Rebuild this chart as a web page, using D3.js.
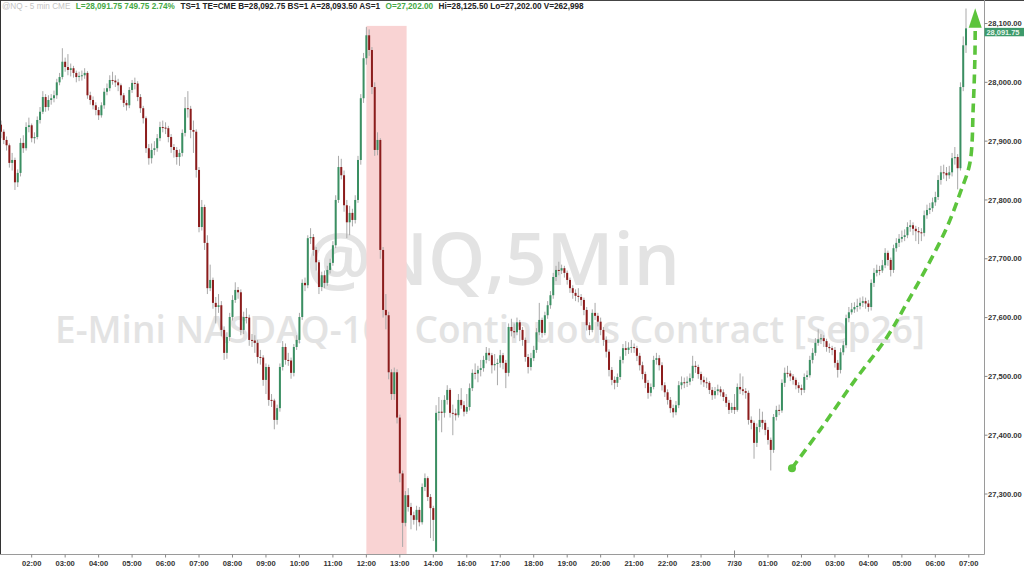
<!DOCTYPE html>
<html><head><meta charset="utf-8">
<script src="https://cdn.jsdelivr.net/npm/d3@7"></script>
<style>html,body{margin:0;padding:0;background:#fff;overflow:hidden}</style>
</head><body>
<svg id="c" width="1024" height="567"></svg>
<script>
// ---------------- DATA ----------------
const opens=[27928,27916,27902,27893,27863,27868,27830,27846,27897,27888,
27924,27927,27905,27907,27936,27950,27975,27958,27970,27973,
27978,28000,28009,28035,28026,28021,28024,28016,28009,28011,
28012,28016,27978,27970,27961,27953,27944,27961,27984,27990,
28004,28003,28000,27995,27978,27965,27961,27987,27999,27998,
27975,27956,27939,27888,27871,27885,27888,27905,27924,27923,
27922,27907,27890,27885,27873,27880,27914,27956,27955,27919,
27916,27851,27754,27788,27727,27650,27664,27625,27618,27621,
27579,27540,27567,27601,27630,27647,27643,27579,27601,27600,
27562,27561,27557,27533,27532,27494,27516,27460,27459,27426,
27446,27516,27550,27528,27527,27506,27550,27562,27601,27659,
27655,27735,27737,27715,27694,27652,27672,27659,27681,27693,
27723,27800,27856,27842,27791,27762,27778,27766,27800,27868,
27973,28041,28080,28055,27992,27885,27902,27715,27613,27604,
27507,27470,27507,27430,27335,27251,27298,27278,27264,27256,
27273,27252,27312,27327,27295,27276,27202,27438,27440,27438,
27460,27477,27438,27437,27434,27460,27451,27440,27448,27480,
27506,27505,27511,27514,27528,27540,27536,27519,27521,27523,
27536,27523,27506,27584,27577,27575,27592,27579,27562,27533,
27516,27531,27545,27575,27596,27574,27604,27621,27638,27669,
27681,27680,27684,27676,27664,27650,27642,27637,27635,27630,
27613,27587,27579,27608,27603,27593,27579,27562,27542,27511,
27494,27489,27499,27528,27548,27545,27549,27550,27548,27535,
27519,27504,27489,27472,27482,27528,27531,27519,27485,27473,
27460,27446,27439,27451,27485,27490,27489,27491,27497,27518,
27516,27504,27494,27490,27489,27477,27468,27475,27478,27473,
27465,27455,27443,27448,27443,27482,27478,27475,27472,27426,
27421,27387,27414,27426,27421,27409,27392,27375,27431,27443,
27442,27489,27506,27505,27500,27494,27485,27480,27477,27499,
27502,27528,27540,27557,27563,27565,27560,27550,27548,27545,
27523,27511,27541,27553,27599,27609,27614,27618,27620,27625,
27628,27624,27618,27659,27676,27681,27680,27689,27710,27698,
27681,27718,27727,27734,27737,27740,27754,27757,27751,27747,
27745,27744,27774,27783,27786,27796,27805,27834,27847,27846,
27842,27847,27871,27873,27854,27992,28063];
const closes=[27916,27902,27893,27863,27868,27830,27846,27897,27888,27924,
27927,27905,27907,27936,27950,27975,27958,27970,27973,27978,
28000,28009,28035,28026,28021,28024,28016,28009,28011,28012,
28016,27978,27970,27961,27953,27944,27961,27984,27990,28004,
28003,28000,27995,27978,27965,27961,27987,27999,27998,27975,
27956,27939,27888,27871,27885,27888,27905,27924,27923,27922,
27907,27890,27885,27873,27880,27914,27956,27955,27919,27916,
27851,27754,27788,27727,27650,27664,27625,27618,27621,27579,
27540,27567,27601,27630,27647,27643,27579,27601,27600,27562,
27561,27557,27533,27532,27494,27516,27460,27459,27426,27446,
27516,27550,27528,27527,27506,27550,27562,27601,27659,27655,
27735,27737,27715,27694,27652,27672,27659,27681,27693,27723,
27800,27856,27842,27791,27762,27778,27766,27800,27868,27973,
28041,28080,28055,27992,27885,27902,27715,27613,27604,27507,
27470,27507,27430,27335,27251,27298,27278,27264,27256,27273,
27252,27312,27327,27295,27276,27256,27438,27440,27438,27460,
27477,27438,27437,27434,27460,27451,27440,27448,27480,27506,
27505,27511,27514,27528,27540,27536,27519,27521,27523,27536,
27523,27506,27584,27577,27575,27592,27579,27562,27533,27516,
27531,27545,27575,27596,27574,27604,27621,27638,27669,27681,
27680,27684,27676,27664,27650,27642,27637,27635,27630,27613,
27587,27579,27608,27603,27593,27579,27562,27542,27511,27494,
27489,27499,27528,27548,27545,27549,27550,27548,27535,27519,
27504,27489,27472,27482,27528,27531,27519,27485,27473,27460,
27446,27439,27451,27485,27490,27489,27491,27497,27518,27516,
27504,27494,27490,27489,27477,27468,27475,27478,27473,27465,
27455,27443,27448,27443,27482,27478,27475,27472,27426,27421,
27387,27414,27426,27421,27409,27392,27375,27431,27443,27442,
27489,27506,27505,27500,27494,27485,27480,27477,27499,27502,
27528,27540,27557,27563,27565,27560,27550,27548,27545,27523,
27511,27541,27553,27599,27609,27614,27618,27620,27625,27628,
27624,27618,27659,27676,27681,27680,27689,27710,27698,27681,
27718,27727,27734,27737,27740,27754,27757,27751,27747,27745,
27744,27774,27783,27786,27796,27805,27834,27847,27846,27842,
27847,27871,27873,27854,27992,28063,28091.75];
const highs=[27935,27920,27908,27896,27880,27872,27852,27905,27910,27932,
27940,27930,27915,27942,27958,27985,27980,27978,27980,27986,
28006,28016,28058,28042,28048,28032,28028,28020,28018,28020,
28024,28019,27984,27976,27966,27958,27966,27990,27998,28012,
28018,28012,28006,27998,27982,27970,27992,28004,28008,28002,
27980,27960,27942,27895,27896,27900,27912,27933,27935,27932,
27926,27912,27895,27890,27886,27920,27975,27985,27960,27935,
27920,27856,27800,27792,27740,27690,27668,27635,27640,27628,
27585,27575,27608,27638,27660,27652,27648,27610,27616,27605,
27572,27570,27562,27545,27536,27522,27520,27470,27462,27452,
27522,27560,27556,27540,27532,27555,27570,27608,27665,27668,
27740,27752,27742,27720,27698,27678,27680,27688,27700,27730,
27808,27875,27870,27850,27800,27790,27785,27808,27875,27980,
28050,28094,28090,28060,28000,27915,27905,27720,27640,27610,
27512,27515,27512,27435,27340,27305,27310,27285,27270,27280,
27278,27318,27335,27330,27300,27280,27451,27465,27460,27468,
27485,27480,27452,27445,27470,27480,27458,27470,27488,27512,
27522,27518,27528,27535,27550,27548,27540,27538,27530,27545,
27540,27528,27590,27598,27590,27600,27596,27584,27566,27538,
27540,27552,27582,27625,27600,27610,27628,27645,27676,27688,
27695,27690,27688,27680,27668,27655,27648,27650,27640,27634,
27618,27592,27614,27625,27608,27600,27584,27568,27546,27516,
27500,27505,27534,27555,27560,27558,27562,27556,27552,27540,
27525,27508,27494,27488,27535,27540,27536,27524,27490,27478,
27465,27452,27458,27492,27500,27498,27500,27505,27535,27526,
27520,27508,27500,27498,27492,27482,27482,27486,27483,27478,
27470,27460,27455,27470,27488,27505,27500,27480,27476,27432,
27425,27420,27445,27440,27426,27414,27396,27436,27450,27452,
27495,27515,27518,27510,27504,27498,27490,27486,27505,27510,
27535,27548,27565,27580,27572,27570,27564,27556,27552,27550,
27528,27548,27560,27605,27618,27625,27626,27632,27634,27636,
27634,27630,27665,27684,27690,27688,27698,27718,27714,27702,
27724,27735,27742,27748,27750,27762,27766,27762,27756,27754,
27752,27782,27792,27795,27804,27814,27842,27858,27860,27856,
27858,27880,27890,27878,28000,28078,28125.5];
const lows=[27905,27895,27884,27855,27850,27817,27822,27840,27880,27884,
27915,27898,27896,27903,27930,27946,27950,27952,27962,27966,
27972,27995,28005,28018,28012,28010,28008,28000,28002,28003,
28006,27972,27962,27954,27944,27936,27940,27955,27978,27985,
27996,27992,27985,27970,27958,27952,27956,27982,27988,27968,
27948,27930,27880,27860,27862,27876,27882,27900,27915,27912,
27898,27880,27872,27860,27858,27874,27908,27940,27905,27880,
27838,27745,27748,27715,27640,27645,27615,27590,27608,27568,
27528,27530,27560,27595,27625,27632,27570,27572,27590,27552,
27550,27540,27522,27520,27484,27470,27450,27448,27410,27418,
27440,27510,27520,27518,27496,27500,27545,27556,27596,27645,
27650,27725,27705,27680,27640,27645,27650,27654,27675,27688,
27718,27795,27835,27780,27735,27740,27755,27760,27795,27860,
27965,28030,28045,27980,27875,27876,27700,27600,27580,27495,
27460,27460,27420,27320,27210,27245,27270,27240,27248,27238,
27245,27248,27305,27288,27225,27220,27202,27425,27405,27430,
27452,27430,27400,27425,27430,27445,27432,27436,27442,27475,
27495,27490,27500,27508,27522,27526,27505,27510,27485,27515,
27512,27480,27500,27568,27565,27570,27560,27552,27525,27505,
27510,27526,27540,27570,27566,27570,27598,27615,27632,27662,
27672,27674,27668,27656,27642,27632,27628,27626,27620,27604,
27578,27570,27575,27596,27585,27570,27552,27532,27500,27485,
27478,27482,27494,27522,27535,27538,27540,27540,27526,27510,
27495,27480,27462,27466,27478,27520,27510,27476,27465,27452,
27438,27430,27434,27446,27478,27480,27482,27485,27492,27506,
27496,27486,27482,27480,27470,27460,27462,27468,27466,27458,
27448,27436,27438,27436,27440,27470,27468,27462,27418,27410,
27360,27380,27405,27410,27400,27384,27340,27370,27425,27434,
27438,27482,27498,27492,27486,27478,27472,27468,27472,27494,
27498,27522,27535,27552,27555,27550,27542,27540,27536,27515,
27498,27505,27536,27548,27592,27605,27608,27610,27614,27618,
27615,27610,27612,27652,27670,27672,27676,27684,27688,27670,
27676,27712,27720,27728,27730,27735,27746,27740,27730,27725,
27730,27738,27768,27776,27780,27790,27800,27826,27836,27832,
27836,27840,27860,27818,27850,27985,28050];

const tickLabels=["02:00","03:00","04:00","05:00","06:00","07:00","08:00","09:00","10:00","11:00","12:00","13:00","14:00",
"16:00","17:00","18:00","19:00","20:00","21:00","22:00","23:00","7/30",
"01:00","02:00","03:00","04:00","05:00","06:00","07:00"];
const priceTicks=[27300,27400,27500,27600,27700,27800,27900,28000,28100];
const lastPrice=28091.75;
const headerParts=["@NQ - 5 min CME","L=28,091.75 749.75 2.74%","TS=1 TE=CME B=28,092.75 BS=1 A=28,093.50 AS=1","O=27,202.00","Hi=28,125.50 Lo=27,202.00 V=262,998"];
const watermark=["@NQ,5Min","E-Mini NASDAQ-100 Continuous Contract [Sep26]"];
const highlight={from:"12:00",to:"13:10",top:28096};
// dashed arrow path: [bar slot index, price]
const arrowPts=[[283.6,27344],[293.7,27409],[305.5,27489],[317.7,27567],[324.8,27625],[332,27686],[339.2,27754],[343.9,27812],[347.4,27863],[348.6,27960],[349.2,28045],[349.3,28098]];
const arrowTip=28126;

// --------- time slots (5-min bar close times, trading halt skipped) -------
const slots=[];
{
  let t=Date.UTC(2025,6,29,1,5); const end=Date.UTC(2025,6,30,7,0);
  while(t<=end){
    const d=new Date(t), h=d.getUTCHours(), m=d.getUTCMinutes(), day=d.getUTCDate();
    const halt= day===29 && ((h===14&&m>0)||(h===15&&m===0));
    if(!halt) slots.push(d);
    t+=5*60000;
  }
}
const hhmm=d=>String(d.getUTCHours()).padStart(2,"0")+":"+String(d.getUTCMinutes()).padStart(2,"0");

// ---------------- CHART ----------------
const svg=d3.select("#c");
const W=1024,H=567, axisX=984.5, axisY=554.5;
const x=d3.scaleLinear().domain([0,slots.length-1]).range([1,968.8]);
const y=d3.scaleLinear().domain([27198,28140]).range([554,0]);
const FONT="'Liberation Sans', Arial, sans-serif";

svg.append("rect").attr("width",W).attr("height",H).attr("fill","#fff");

// watermark
const wm=svg.append("g").attr("fill","#e3e3e3").attr("font-family","'Open Sans', sans-serif").attr("font-weight",600).attr("text-anchor","middle");
wm.append("text").attr("x",493).attr("y",285).attr("font-size",72).attr("textLength",374).attr("lengthAdjust","spacingAndGlyphs").text(watermark[0]);
wm.append("text").attr("x",490).attr("y",343).attr("font-size",38).attr("textLength",870).attr("lengthAdjust","spacingAndGlyphs").text(watermark[1]);

// highlight band
const i0=slots.findIndex(d=>d.getUTCDate()===29&&hhmm(d)===highlight.from);
const i1=slots.findIndex(d=>d.getUTCDate()===29&&hhmm(d)===highlight.to);
svg.append("rect").attr("x",x(i0)).attr("y",y(highlight.top)).attr("width",x(i1)-x(i0)+1.2)
  .attr("height",axisY-y(highlight.top)).attr("fill","#f9d3d3");

// candles
const bars=opens.map((o,i)=>({i,o,c:closes[i],h:highs[i],l:lows[i]}));
const g=svg.append("g");
g.selectAll("line.w").data(bars).join("line").attr("class","w")
  .attr("x1",d=>x(d.i)).attr("x2",d=>x(d.i)).attr("y1",d=>y(d.h)).attr("y2",d=>y(d.l))
  .attr("stroke","#a9a9a9").attr("stroke-width",1);
g.selectAll("rect.b").data(bars).join("rect").attr("class","b")
  .attr("x",d=>x(d.i)-1).attr("width",2)
  .attr("y",d=>y(Math.max(d.o,d.c))).attr("height",d=>Math.max(1,Math.abs(y(d.o)-y(d.c))))
  .attr("fill",d=>d.c>=d.o?"#3a8f62":"#8c1c1c");

// dashed arrow
const line=d3.line().x(d=>x(d[0])).y(d=>y(d[1])).curve(d3.curveCatmullRom.alpha(0.5));
svg.append("path").attr("d",line(arrowPts)).attr("fill","none").attr("stroke","#5cc43c")
  .attr("stroke-width",3.6).attr("stroke-dasharray","9,5.5");
svg.append("circle").attr("cx",x(arrowPts[0][0])).attr("cy",y(arrowPts[0][1])).attr("r",4).attr("fill","#5cc43c");
const tp=arrowPts[arrowPts.length-1], tx=x(tp[0]);
svg.append("path").attr("d",`M${tx},${y(arrowTip)} L${tx+6.5},${y(tp[1])+3} L${tx-6.5},${y(tp[1])+3} Z`).attr("fill","#5cc43c");

// frame
svg.append("line").attr("x1",0).attr("x2",W).attr("y1",0.5).attr("y2",0.5).attr("stroke","#444");
svg.append("line").attr("x1",0.5).attr("x2",0.5).attr("y1",0).attr("y2",axisY).attr("stroke","#333");
svg.append("line").attr("x1",axisX).attr("x2",axisX).attr("y1",0).attr("y2",axisY).attr("stroke","#9a9a9a");
svg.append("line").attr("x1",0).attr("x2",axisX).attr("y1",axisY).attr("y2",axisY).attr("stroke","#9a9a9a");

// price axis
const fmt=d3.format(",.2f");
const ya=svg.append("g").attr("font-family",FONT).attr("font-size",7.6).attr("fill","#333");
priceTicks.forEach(v=>{
  ya.append("line").attr("x1",axisX).attr("x2",axisX+3).attr("y1",y(v)).attr("y2",y(v)).attr("stroke","#888");
  ya.append("text").attr("x",axisX+3.5).attr("y",y(v)).attr("dy","0.35em").attr("font-weight",700).text(fmt(v));
});
// last price marker (box sits just below its price line, as in the source platform)
const boxTop=y(lastPrice)-0.5;
svg.append("rect").attr("x",axisX).attr("y",boxTop).attr("width",40).attr("height",8.4).attr("fill","#3d9a6b");
svg.append("text").attr("x",axisX+2).attr("y",boxTop+4.2).attr("dy","0.35em").attr("font-family",FONT)
  .attr("font-size",7.4).attr("font-weight",700).attr("fill","#e8f5ec").text(fmt(lastPrice));

// time axis
const hourIdx=[]; slots.forEach((d,i)=>{ if(d.getUTCMinutes()===0) hourIdx.push(i); });
const xa=svg.append("g").attr("font-family",FONT).attr("font-size",7.6).attr("font-weight",700).attr("fill","#333").attr("text-anchor","middle");
tickLabels.forEach((lab,k)=>{
  const px=x(hourIdx[k]);
  xa.append("line").attr("x1",px).attr("x2",px).attr("y1",lab==="7/30"?axisY-4:axisY).attr("y2",axisY+3).attr("stroke","#888");
  xa.append("text").attr("x",px).attr("y",565.5).text(lab);
});

// header (laid out sequentially)
const hc=["#c4c4c4","#45a845","#222","#45a845","#222"];
const hg=svg.append("g").attr("font-family",FONT).attr("font-size",8.2);
let hx=2;
headerParts.forEach((t,k)=>{
  const n=hg.append("text").attr("x",hx).attr("y",9).attr("fill",hc[k]).attr("font-weight",k===0?400:700).text(t);
  hx+=n.node().getComputedTextLength()+5.5;
});
</script>
</body></html>
